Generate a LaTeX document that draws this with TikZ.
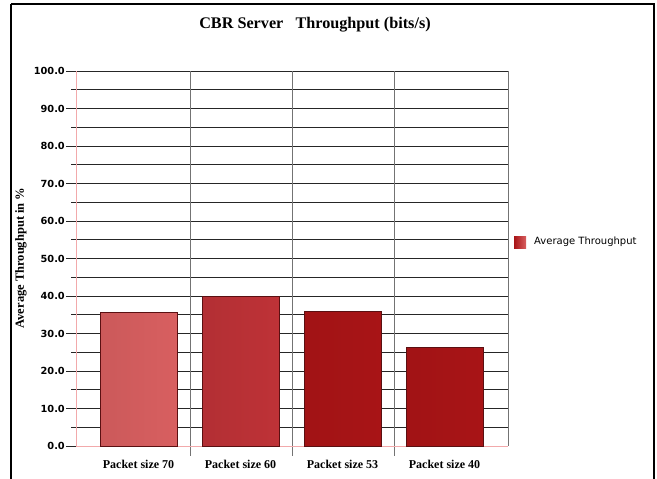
\documentclass[tikz,border=0pt]{standalone}
\usepackage{fontspec}
\setmainfont{Liberation Serif}
\newfontfamily\verdfont{DejaVu Sans}
\definecolor{barlight}{HTML}{D85F60}
\definecolor{barmid}{HTML}{BE3237}
\definecolor{bardark}{HTML}{A81416}
\definecolor{barline}{HTML}{5A1012}
\definecolor{axispink}{HTML}{F2A9AB}
\tikzset{
  gridline/.style={black!85, line width=0.9pt},
  catline/.style={black!55, line width=1pt},
  bar/.style={draw=barline, line width=0.8pt},
  ticklabel/.style={anchor=east, inner sep=1pt, font=\verdfont\bfseries\fontsize{9.8}{10}\selectfont},
  catlabel/.style={anchor=center, font=\bfseries\fontsize{12}{13}\selectfont}
}
\begin{document}
\begin{tikzpicture}[x=1pt,y=-1pt]
                \useasboundingbox (0,0) rectangle (657,479);
                
                % Outer frame
                \draw[line width=2pt] (11,4) -- (654,4) -- (654,490);
                \draw[line width=2pt] (11,4) -- (11,490);
                
                % Title
                \node[font=\bfseries\fontsize{16.2}{18}\selectfont] (title) at (315,25) {CBR Server\ \ \ Throughput (bits/s)};
                
                % Horizontal grid lines with tick labels
                \foreach \v in {0,10,...,100}
                  {\draw[gridline] (66,446-3.75*\v) -- (508,446-3.75*\v);
                   \node[ticklabel] (tick\v) at (66,446-3.75*\v) {\v.0};}
                \foreach \v in {5,15,...,95}
                  \draw[gridline] (71,446-3.75*\v) -- (508,446-3.75*\v);
                
                % Category separators
                \draw[catline] (190,71) -- (190,456);
                \draw[catline] (292,71) -- (292,456);
                \draw[catline] (394,71) -- (394,456);
                \draw[catline] (508,71) -- (508,446);
                
                % Axes
                \draw[axispink, line width=1pt] (76,71) -- (76,446) -- (508,446);
                
                % Bars
                \fill[bar, left color=barlight!94!black, right color=barlight] (100,446) rectangle (177,312.8);
                \fill[bar, left color=barmid!94!black, right color=barmid] (202,446) rectangle (279,296);
                \fill[bar, left color=bardark!96!black, right color=bardark] (304,446) rectangle (381,311);
                \fill[bar, left color=bardark!96!black, right color=bardark] (406,446) rectangle (483,347);
                \draw[bar] (100,446) rectangle (177,312.8);
                \draw[bar] (202,446) rectangle (279,296);
                \draw[bar] (304,446) rectangle (381,311);
                \draw[bar] (406,446) rectangle (483,347);
                
                % Category labels
                \node[catlabel] (cat70) at (138.5,464) {Packet size 70};
                \node[catlabel] (cat60) at (240.5,464) {Packet size 60};
                \node[catlabel] (cat53) at (342.5,464) {Packet size 53};
                \node[catlabel] (cat40) at (444.5,464) {Packet size 40};
                
                % Axis title
                \node[rotate=90, font=\bfseries\fontsize{12.5}{13}\selectfont] (ytitle) at (21,258) {Average Throughput in \%};
                
                % Legend
                \fill[left color=bardark, right color=barlight] (514,236) rectangle (526,248);
                \node[anchor=west, inner sep=0pt, font=\verdfont\fontsize{10}{11}\selectfont] (legend) at (534,242) {Average Throughput};
            \end{tikzpicture}
\end{document}
